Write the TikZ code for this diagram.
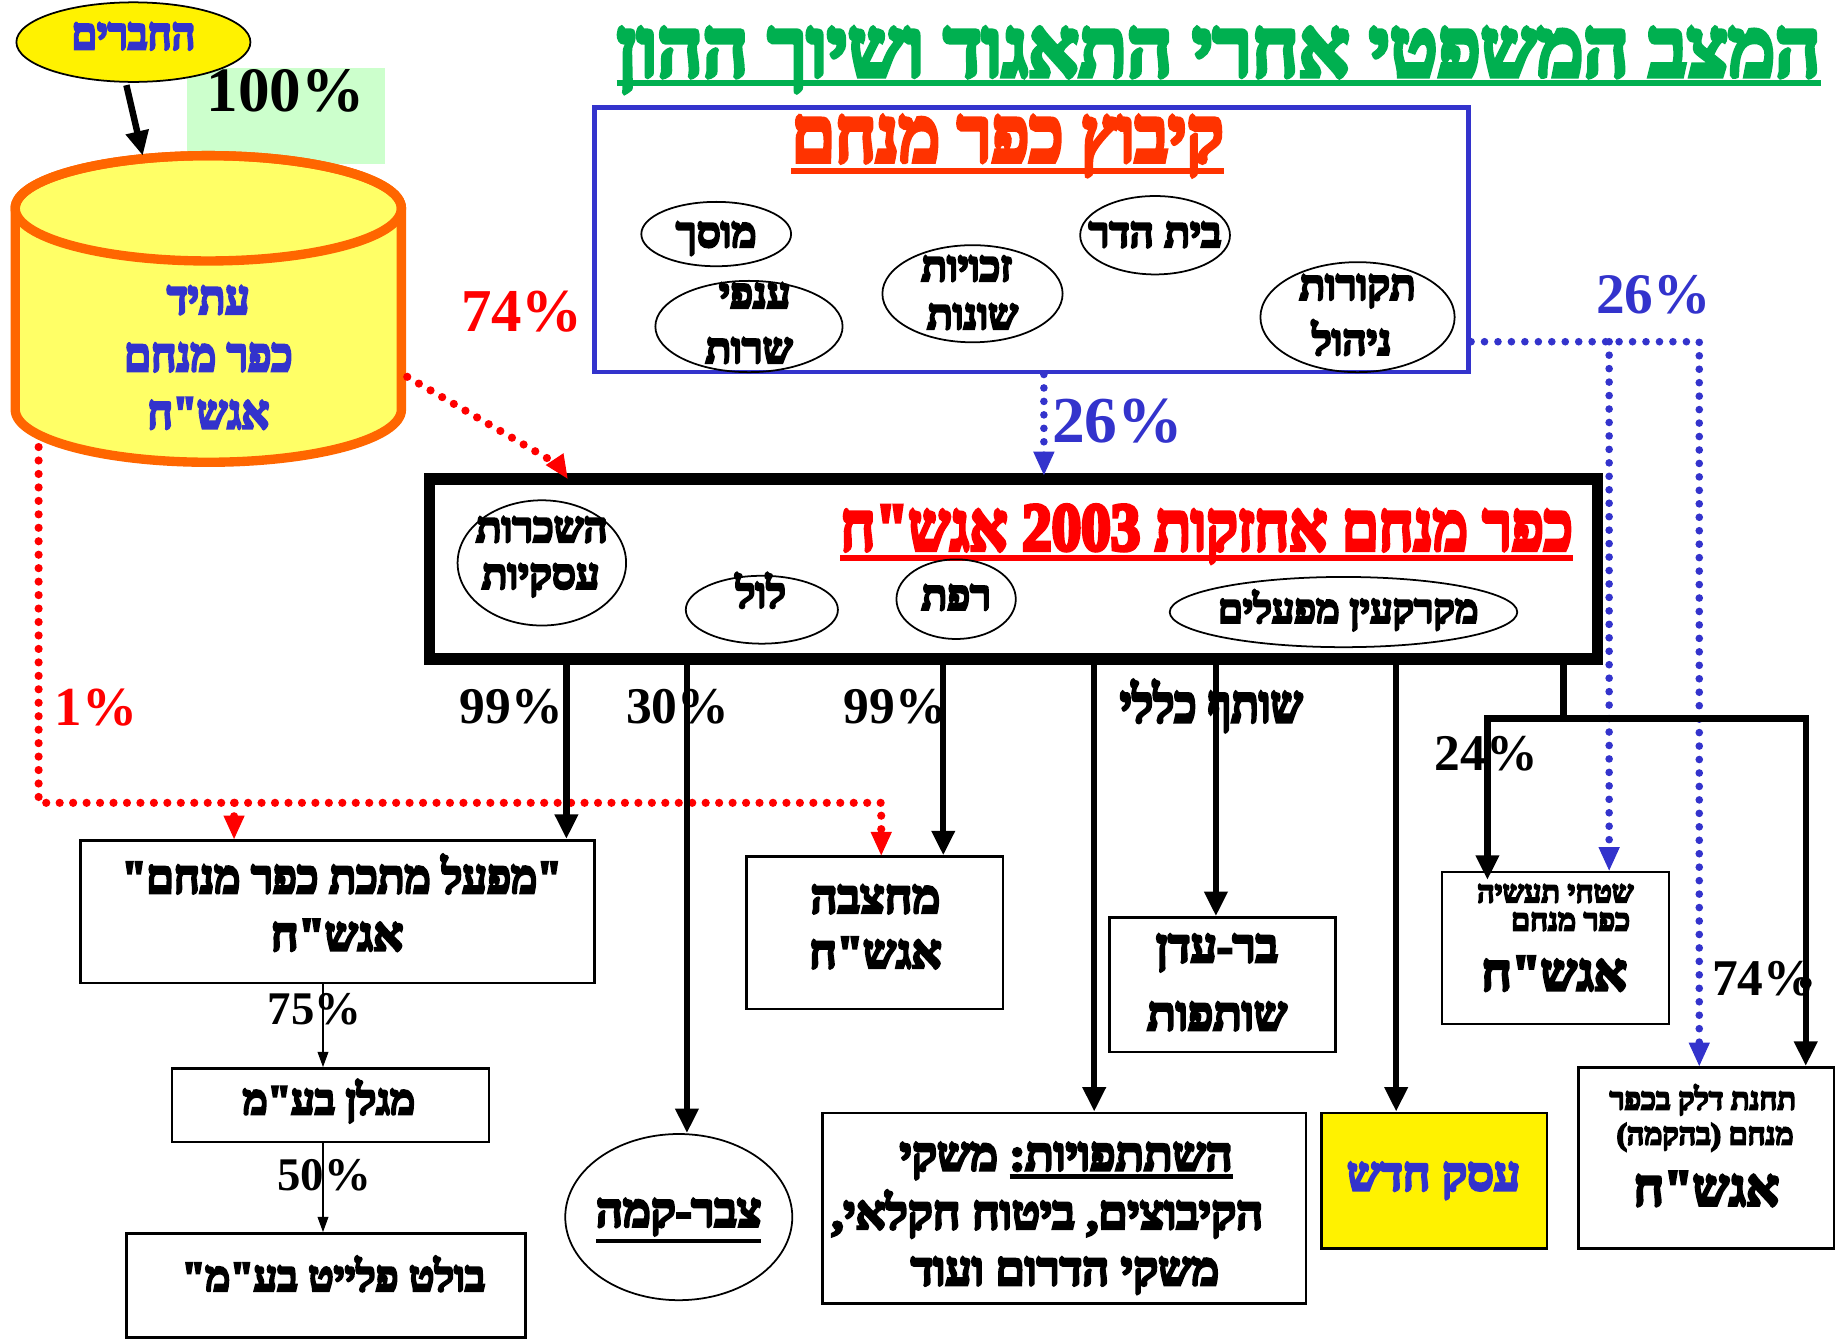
\documentclass[tikz,border=0pt]{standalone}
\usepackage{fontspec}
\setmainfont{Liberation Serif}
\newfontfamily\hebfont[Script=Hebrew, BoldFeatures={FakeBold=6}]{Liberation Serif}
\TeXXeTstate=1
\usetikzlibrary{arrows.meta,shapes.geometric}
\newcommand\fsz[1]{\fontsize{#1}{#1}\selectfont}
\newcommand\hb[1]{\hebfont\bfseries\beginR #1\endR}
\newcommand\hsc[2]{\scalebox{#1}[1]{#2}}
\newcommand\ulx[1]{\vtop{\hbox{#1}\kern3pt\hrule height 3.5pt}}
\definecolor{tgreen}{RGB}{0,176,80}
\definecolor{korange}{RGB}{255,51,0}
\definecolor{dblue}{RGB}{51,51,204}
\definecolor{cylfill}{RGB}{255,255,102}
\definecolor{cylline}{RGB}{255,102,0}
\definecolor{lgreen}{RGB}{204,255,204}
\begin{document}
\begin{tikzpicture}[x=1pt,y=-1pt,
  hebt/.style={inner sep=0, anchor=base},
  pcts/.style={inner sep=0, anchor=base, font=\bfseries},
  ellb/.style={draw, ellipse, line width=1.5pt, inner sep=0},
  boxb/.style={draw, rectangle, line width=2.2pt, inner sep=0},
  bigarr/.style={line width=5.5pt, -{Triangle[width=19pt,length=21pt]}},
  thinarr/.style={line width=1.5pt, -{Triangle[width=9pt,length=13pt]}},
  rdots/.style={red, line width=7pt, dash pattern=on 0pt off 11.5pt, line cap=round},
  bdots/.style={dblue, line width=6.5pt, dash pattern=on 0pt off 11.5pt, line cap=round},
  rtip/.style={-{Triangle[width=18pt,length=20pt]}},
  ]
\useasboundingbox (0,0) rectangle (1568,1145);

% ---------- title ----------
\node[hebt, anchor=base west, text=tgreen] (title) at (527,65) {\fsz{70}\hsc{0.965}{\hb{המצב המשפטי אחרי התאגוד ושיוך ההון}}};
\draw[tgreen, line width=5pt] ([yshift=-6pt]title.base west) -- ([yshift=-6pt]title.base east);

% ---------- 100% box and members ----------
\node[fill=lgreen, minimum width=169pt, minimum height=82pt, inner sep=0] (gbox) at (244.5,99) {};
\node[ellb, fill=yellow, minimum width=200pt, minimum height=68pt] (members) at (114,36) {};
\node[hebt, text=dblue] (memt) at (114,42) {\fsz{38}\hsc{0.92}{\hb{החברים}}};
\node[pcts] (p100) at (244,95) {\fsz{54}100\%};

% ---------- cylinder ----------
\node[minimum width=330pt, minimum height=262pt, inner sep=0] (cyl) at (178,264) {};
\filldraw[fill=cylfill, draw=cylline, line width=8pt]
  (13,178) -- (13,350) arc[start angle=180, end angle=0, x radius=165, y radius=45]
  -- (343,178) arc[start angle=0, end angle=-180, x radius=165, y radius=45] -- cycle;
\draw[cylline, line width=8pt] (178,178) ellipse[x radius=165, y radius=45];
\coordinate (cyltop) at (122,133);
\node[hebt, text=dblue] (cyl1) at (178,268) {\fsz{40}\hsc{0.92}{\hb{עתיד}}};
\node[hebt, text=dblue] (cyl2) at (178,317) {\fsz{40}\hsc{0.92}{\hb{כפר מנחם}}};
\node[hebt, text=dblue] (cyl3) at (178,366) {\fsz{40}\hsc{0.92}{\hb{אגש"ח}}};
\draw[bigarr] (members.south) ++(-6,2) coordinate (ma) -- (cyltop);

% ---------- kibbutz box ----------
\node[draw=dblue, line width=4pt, minimum width=747pt, minimum height=226pt, inner sep=0] (kib) at (881.5,205) {};
\node[hebt, text=korange] (kibt) at (861,138) {\fsz{66}\hsc{0.9}{\hb{קיבוץ כפר מנחם}}};
\draw[korange, line width=5pt] ([yshift=-8pt]kibt.base west) -- ([yshift=-8pt]kibt.base east);

\node[ellb, minimum width=128pt, minimum height=55pt] (musach) at (612,200) {};
\node[ellb, minimum width=160pt, minimum height=78pt] (anfei) at (640,279) {};
\node[ellb, minimum width=154pt, minimum height=83pt] (zchu) at (831,251) {};
\node[ellb, minimum width=128pt, minimum height=67pt] (beit) at (987,201) {};
\node[ellb, minimum width=166pt, minimum height=94pt] (takur) at (1160,271) {};
\node[hebt] (musacht) at (612,211) {\fsz{36}\hb{מוסך}};
\node[hebt] (anfei1) at (645,263) {\fsz{36}\hb{ענפי}};
\node[hebt] (anfei2) at (640,310) {\fsz{36}\hb{שרות}};
\node[hebt] (zchu1) at (826,240) {\fsz{36}\hb{זכויות}};
\node[hebt] (zchu2) at (831,281) {\fsz{36}\hb{שונות}};
\node[hebt] (beitt) at (987,211) {\fsz{36}\hb{בית הדר}};
\node[hebt] (takur1) at (1160,256) {\fsz{36}\hb{תקורות}};
\node[hebt] (takur2) at (1155,303) {\fsz{36}\hb{ניהול}};

% ---------- percentages top ----------
\node[pcts, text=red] (p74a) at (446,283) {\fsz{52}74\%};
\node[pcts, text=dblue] (p26r) at (1413,268) {\fsz{49}26\%};
\node[pcts, text=dblue] (p26c) at (955,378) {\fsz{56}26\%};
\node[pcts, text=red] (p1) at (82,620) {\fsz{47}1\%};

% ---------- holding box ----------
\node[draw, line width=10pt, minimum width=998pt, minimum height=154pt, inner sep=0] (hold) at (866,486) {};
\node[hebt, text=red] (holdt) at (1031,470) {\fsz{58}\hsc{0.87}{\hb{כפר מנחם אחזקות \beginL 2003\endL{} אגש"ח}}};
\draw[red, line width=5pt] ([yshift=-7pt]holdt.base west) -- ([yshift=-7pt]holdt.base east);

\node[ellb, minimum width=144pt, minimum height=107pt] (hasch) at (463,481) {};
\node[ellb, minimum width=130pt, minimum height=58pt] (lul) at (651,521) {};
\node[ellb, minimum width=102pt, minimum height=68pt] (refet) at (817,512) {};
\node[ellb, minimum width=297pt, minimum height=60pt] (mekar) at (1148,523) {};
\node[hebt] (hasch1) at (463,463) {\fsz{36}\hb{השכרות}};
\node[hebt] (hasch2) at (462,503) {\fsz{36}\hb{עסקיות}};
\node[hebt] (lult) at (650,519) {\fsz{36}\hb{לול}};
\node[hebt] (refett) at (817,521) {\fsz{36}\hb{רפת}};
\node[hebt] (mekart) at (1152,532) {\fsz{34}\hb{מקרקעין מפעלים}};

% ---------- labels below holding ----------
\node[pcts] (p99a) at (437,618) {\fsz{44}99\%};
\node[pcts] (p30) at (579,618) {\fsz{44}30\%};
\node[pcts] (p99b) at (765,618) {\fsz{44}99\%};
\node[hebt] (shutaf) at (1035,617) {\fsz{44}\hsc{0.88}{\hb{שותף כללי}}};
\node[pcts] (p24) at (1270,658) {\fsz{44}24\%};
\node[pcts] (p74b) at (1507,851) {\fsz{44}74\%};
\node[pcts] (p75) at (269,875) {\fsz{40}75\%};
\node[pcts] (p50) at (277,1017) {\fsz{40}50\%};

% ---------- lower boxes ----------
\node[boxb, minimum width=439pt, minimum height=122pt] (mpal) at (288.5,779) {};
\node[hebt] (mpal1) at (292,763) {\fsz{40}\hsc{0.94}{\hb{"מפעל מתכת כפר מנחם"}}};
\node[hebt] (mpal2) at (288,812) {\fsz{40}\hb{אגש"ח}};

\node[boxb, minimum width=271pt, minimum height=63pt] (magl) at (282.5,944.5) {};
\node[hebt] (maglt) at (281,952) {\fsz{36}\hb{מגלן בע"מ}};

\node[boxb, minimum width=341pt, minimum height=89pt] (bolt) at (278.5,1098.5) {};
\node[hebt] (boltt) at (285,1103) {\fsz{36}\hb{בולט פלייט בע"מ"}};

\node[ellb, minimum width=194pt, minimum height=142pt] (tsab) at (580,1040) {};
\node[hebt] (tsabt) at (580,1048) {\fsz{40}\hb{\ulx{צבר-קמה}}};

\node[boxb, minimum width=219pt, minimum height=130pt] (mahz) at (747.5,797) {};
\node[hebt] (mahz1) at (748,780) {\fsz{40}\hb{מחצבה}};
\node[hebt] (mahz2) at (748,827) {\fsz{40}\hb{אגש"ח}};

\node[boxb, minimum width=193pt, minimum height=115pt] (bared) at (1044.5,841.5) {};
\node[hebt] (bared1) at (1040,822) {\fsz{40}\hb{בר-עדן}};
\node[hebt] (bared2) at (1040,880) {\fsz{40}\hb{שותפות}};

\node[boxb, minimum width=413pt, minimum height=163pt] (hisht) at (909.5,1032.5) {};
\node[hebt] (hisht1) at (911,1000) {\fsz{40}\hb{\ulx{השתתפויות:} משקי}};
\node[hebt] (hisht2) at (895,1050) {\fsz{40}\hb{הקיבוצים, ביטוח חקלאי,}};
\node[hebt] (hisht3) at (910,1098) {\fsz{40}\hb{משקי הדרום ועוד}};

\node[boxb, fill=yellow, minimum width=193pt, minimum height=116pt] (esek) at (1225.5,1009) {};
\node[hebt, text=dblue] (esekt) at (1225,1017) {\fsz{40}\hb{עסק חדש}};

\node[boxb, minimum width=194pt, minimum height=130pt] (shet) at (1329,810) {};
\node[hebt] (shet1) at (1329,771) {\fsz{26}\hb{שטחי תעשיה}};
\node[hebt] (shet2) at (1342,795) {\fsz{26}\hb{כפר מנחם}};
\node[hebt] (shet3) at (1328,846) {\fsz{44}\hb{אגש"ח}};

\node[boxb, minimum width=218pt, minimum height=155pt] (tach) at (1458,989.5) {};
\node[hebt] (tach1) at (1455,948) {\fsz{26}\hb{תחנת דלק בכפר}};
\node[hebt] (tach2) at (1457,978) {\fsz{26}\hb{מנחם (בהקמה)}};
\node[hebt] (tach3) at (1458,1030) {\fsz{44}\hb{אגש"ח}};

% ---------- coordinates for connector columns ----------
\coordinate (xa) at (484,0);
\coordinate (xb) at (587,0);
\coordinate (xc) at (806,0);
\coordinate (xd) at (935,0);
\coordinate (xe) at (1039,0);
\coordinate (xf) at (1193,0);
\coordinate (xg) at (1336,0);
\coordinate (xh) at (1271,0);
\coordinate (xi) at (1543,0);
\coordinate (xj) at (892,0);
\coordinate (xk) at (1375,0);
\coordinate (xl) at (1452,0);
\coordinate (xm) at (200,0);
\coordinate (xn) at (753,0);
\coordinate (xp) at (276,0);

% ---------- red dotted ----------
\coordinate (cylr) at (348,322);
\coordinate (holdin) at (485,409);
\draw[rdots] (cylr) -- ([shift={(-8,-12)}]holdin);
\draw[red, rtip, line width=1pt] ([shift={(-4,-6)}]holdin) -- (holdin);
\coordinate (cylbl) at (33,382);
\coordinate (rl) at (33,686);
\draw[rdots] (cylbl) -- (rl) -- (rl -| xn) -- ([yshift=12pt]mahz.north -| xn);
\draw[red, rtip, line width=1pt] ([yshift=6pt]mahz.north -| xn) -- (mahz.north -| xn);
\draw[rdots] (rl -| xm) -- ([yshift=12pt]mpal.north -| xm);
\draw[red, rtip, line width=1pt] ([yshift=6pt]mpal.north -| xm) -- (mpal.north -| xm);

% ---------- blue dotted ----------
\draw[bdots] (kib.south -| xj) -- ([yshift=12pt]hold.north -| xj);
\draw[dblue, rtip, line width=1pt] ([yshift=6pt]hold.north -| xj) -- ([yshift=-2pt]hold.north -| xj);
\coordinate (kr) at (1257,292);
\draw[bdots] (kr) -- (kr -| xl) -- ([yshift=12pt]tach.north -| xl);
\draw[bdots] (kr -| xk) -- ([yshift=12pt]shet.north -| xk);
\draw[dblue, rtip, line width=1pt] ([yshift=6pt]shet.north -| xk) -- (shet.north -| xk);
\draw[dblue, rtip, line width=1pt] ([yshift=6pt]tach.north -| xl) -- (tach.north -| xl);

% ---------- black connectors ----------
\draw[bigarr] (hold.south -| xa) -- (mpal.north -| xa);
\draw[bigarr] (hold.south -| xb) -- (tsab.north -| xb);
\draw[bigarr] (hold.south -| xc) -- (mahz.north -| xc);
\draw[bigarr] (hold.south -| xd) -- (hisht.north -| xd);
\draw[bigarr] (hold.south -| xe) -- (bared.north -| xe);
\draw[bigarr] (hold.south -| xf) -- (esek.north -| xf);
\coordinate (split) at (1336,614);
\draw[line width=5.5pt] (hold.south -| xg) -- (split);
\draw[line width=5.5pt, line cap=rect] (split -| xh) -- (split -| xi);
\draw[bigarr] (split -| xh) -- ([yshift=-8pt]shet.north -| xh);
\draw[bigarr] (split -| xi) -- (tach.north -| xi);
\coordinate (dot74) at (1543,840);
\fill (dot74) circle[radius=5];
\draw[thinarr] (mpal.south -| xp) -- (magl.north -| xp);
\draw[thinarr] (magl.south -| xp) -- (bolt.north -| xp);
\end{tikzpicture}
\end{document}
